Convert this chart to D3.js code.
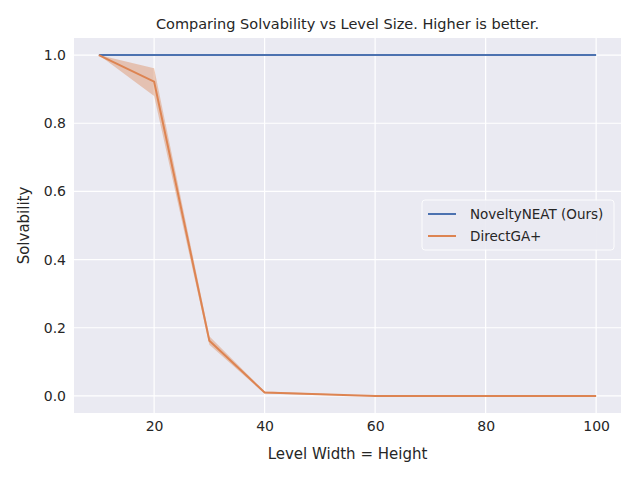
<!DOCTYPE html>
<html><head><meta charset="utf-8">
<script src="https://cdn.jsdelivr.net/npm/d3@7"></script>
<style>
body{margin:0;background:#fff;}
text{font-family:"DejaVu Sans",sans-serif;fill:#262626;}
</style></head><body>
<svg id="chart"></svg>
<script>
const sizes = [10, 20, 30, 40, 50, 60, 70, 80, 90, 100];
const neat = [1, 1, 1, 1, 1, 1, 1, 1, 1, 1];
const directMean = [1.0, 0.922, 0.162, 0.01, 0.005, 0.0, 0.0, 0.0, 0.0, 0.0];
const directLow  = [1.0, 0.88, 0.15, 0.007, 0.003, 0.0, 0.0, 0.0, 0.0, 0.0];
const directHigh = [1.0, 0.961, 0.175, 0.013, 0.007, 0.0, 0.0, 0.0, 0.0, 0.0];
const xTicks = [20, 40, 60, 80, 100];
const yTicks = [0, 0.2, 0.4, 0.6, 0.8, 1.0];

const W = 640, H = 480;
const margin = {top: 38, right: 19, bottom: 67, left: 74};
const w = W - margin.left - margin.right, h = H - margin.top - margin.bottom;

const svg = d3.select('#chart').attr('width', W).attr('height', H);
const g = svg.append('g').attr('transform', `translate(${margin.left},${margin.top})`);

const x = d3.scaleLinear().domain([5.5, 104.5]).range([0, w]);
const y = d3.scaleLinear().domain([-0.05, 1.05]).range([h, 0]);

g.append('rect').attr('width', w).attr('height', h).attr('fill', '#eaeaf2');

// grid
g.selectAll('.gx').data(xTicks).join('line')
  .attr('x1', d => x(d)).attr('x2', d => x(d)).attr('y1', 0).attr('y2', h)
  .attr('stroke', '#fff').attr('stroke-width', 1.2);
g.selectAll('.gy').data(yTicks).join('line')
  .attr('y1', d => y(d)).attr('y2', d => y(d)).attr('x1', 0).attr('x2', w)
  .attr('stroke', '#fff').attr('stroke-width', 1.2);

// axes
const xAxis = g.append('g').attr('transform', `translate(0,${h})`)
  .call(d3.axisBottom(x).tickValues(xTicks).tickSize(0).tickPadding(8));
const yAxis = g.append('g')
  .call(d3.axisLeft(y).tickValues(yTicks).tickFormat(d3.format('.1f')).tickSize(0).tickPadding(8));
[xAxis, yAxis].forEach(a => {
  a.select('.domain').remove();
  a.selectAll('text').style('font-size', '14px').style('font-family', '"DejaVu Sans",sans-serif').attr('fill', '#262626');
});

const idx = d3.range(sizes.length);
g.append('path').datum(idx)
  .attr('d', d3.area().x(i => x(sizes[i])).y0(i => y(directLow[i])).y1(i => y(directHigh[i])))
  .attr('fill', '#dd8452').attr('opacity', 0.4);

const line = arr => d3.line().x(i => x(sizes[i])).y(i => y(arr[i]));
g.append('path').datum(idx).attr('d', line(neat)).attr('fill', 'none')
  .attr('stroke', '#4c72b0').attr('stroke-width', 2);
g.append('path').datum(idx).attr('d', line(directMean)).attr('fill', 'none')
  .attr('stroke', '#dd8452').attr('stroke-width', 2);

// title and labels
svg.append('text').attr('x', margin.left + w / 2).attr('y', 29).attr('text-anchor', 'middle')
  .style('font-size', '14.5px').text('Comparing Solvability  vs Level Size. Higher is better.');
svg.append('text').attr('x', margin.left + w / 2).attr('y', 459).attr('text-anchor', 'middle')
  .style('font-size', '15px').text('Level Width = Height');
svg.append('text').attr('transform', `translate(29,${margin.top + h / 2}) rotate(-90)`)
  .attr('text-anchor', 'middle').style('font-size', '15px').text('Solvability');

// legend
const lg = svg.append('g').attr('transform', 'translate(422,200)');
lg.append('rect').attr('width', 192).attr('height', 50).attr('rx', 3)
  .attr('fill', '#eaeaf2').attr('stroke', '#fff').attr('opacity', 0.9);
const items = [['NoveltyNEAT (Ours)', '#4c72b0'], ['DirectGA+', '#dd8452']];
items.forEach((it, i) => {
  const yy = 14 + i * 22;
  lg.append('line').attr('x1', 6).attr('x2', 34).attr('y1', yy).attr('y2', yy)
    .attr('stroke', it[1]).attr('stroke-width', 2);
  lg.append('text').attr('x', 48).attr('y', yy + 5).style('font-size', '13.5px').text(it[0]);
});
</script>
</body></html>
